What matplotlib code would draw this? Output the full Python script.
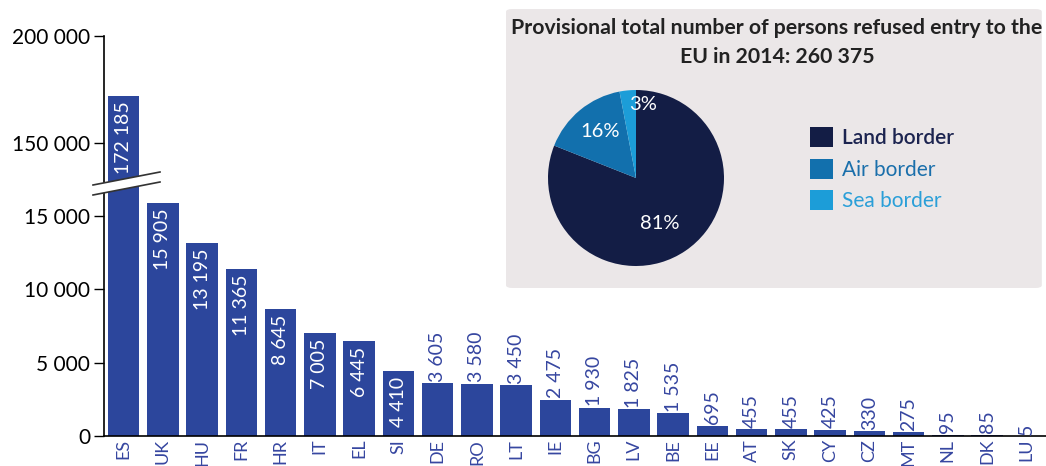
import matplotlib
matplotlib.use("Agg")
import matplotlib.pyplot as plt
from matplotlib.patches import FancyBboxPatch, Polygon
from matplotlib.lines import Line2D

plt.rcParams['font.family'] = ['Lato', 'DejaVu Sans']

countries = ["ES", "UK", "HU", "FR", "HR", "IT", "EL", "SI", "DE", "RO", "LT", "IE", "BG",
             "LV", "BE", "EE", "AT", "SK", "CY", "CZ", "MT", "NL", "DK", "LU"]
refused = [172185, 15905, 13195, 11365, 8645, 7005, 6445, 4410, 3605, 3580, 3450, 2475, 1930,
           1825, 1535, 695, 455, 455, 425, 330, 275, 95, 85, 5]

border_types = ["Land border", "Air border", "Sea border"]
border_share = [81, 16, 3]
total_refused = "260 375"

BAR = "#2c469c"
LABEL_BLUE = "#3646a0"
PIE_COLS = ["#131d45", "#1270ad", "#1c9dd8"]
LEG_TEXT = ["#1c2450", "#1a6fab", "#2a9fd8"]

W, H = 1046, 466
fig = plt.figure(figsize=(W / 100, H / 100), dpi=100)


def fx(x):
    return x / W


def fy(y):
    return 1 - y / H


def fmt(v):
    return f"{v:,}".replace(",", " ")


# grey inset box, kept behind the (transparent) axes
box = FancyBboxPatch((fx(506), fy(288)), fx(1046 - 506) - 0.004, (288 - 9) / H,
                     boxstyle="round,pad=0,rounding_size=0.006", transform=fig.transFigure,
                     facecolor="#ebe7e8", edgecolor="none", zorder=-1)
fig.patches.append(box)

# axes positions taken in pixels from the top-left corner
left, right = 104, 1046
y_top, y_break, y_zero = 36, 186, 436
ax_lo = fig.add_axes([fx(left), fy(y_zero), fx(right - left), (y_zero - y_break) / H])
ax_hi = fig.add_axes([fx(left), fy(y_break), fx(right - left), (y_break - y_top) / H])

x = list(range(len(countries)))
for ax in (ax_lo, ax_hi):
    ax.set_facecolor("none")
    ax.bar(x, refused, width=0.8, color=BAR, zorder=2)
    ax.set_xlim(-0.5, len(countries) - 0.5)
    for s in ("top", "right"):
        ax.spines[s].set_visible(False)
    ax.tick_params(axis="y", direction="out", length=7, width=1, labelsize=15, pad=3)

ax_lo.set_ylim(0, 17050)
ax_hi.set_ylim(129900, 200000)
ax_lo.set_yticks([0, 5000, 10000, 15000])
ax_lo.set_yticklabels([fmt(v) for v in [0, 5000, 10000, 15000]])
ax_hi.set_yticks([150000, 200000])
ax_hi.set_yticklabels([fmt(v) for v in [150000, 200000]])
ax_hi.spines["bottom"].set_visible(False)
ax_hi.set_xticks([])

ax_lo.set_xticks(x)
ax_lo.set_xticklabels(countries, rotation=90, color=LABEL_BLUE, fontsize=13)
ax_lo.tick_params(axis="x", length=0, pad=2)
for s in ("left", "bottom"):
    ax_lo.spines[s].set_linewidth(1.2)
ax_hi.spines["left"].set_linewidth(1.2)

# value labels
for i, v in enumerate(refused):
    ax = ax_hi if v > 17050 else ax_lo
    if v > 4000:
        ax.annotate(fmt(v), (i, v), xytext=(0, -4), textcoords="offset points",
                    rotation=90, ha="center", va="top", color="white", fontsize=14)
    else:
        ax.annotate(fmt(v), (i, v), xytext=(0, 1), textcoords="offset points",
                    rotation=90, ha="center", va="bottom", color=LABEL_BLUE, fontsize=14)

# axis break marks
band = Polygon([(fx(93), fy(185)), (fx(160), fy(172)), (fx(160), fy(182)), (fx(93), fy(195))],
               closed=True, transform=fig.transFigure, facecolor="white", edgecolor="none", zorder=10)
fig.add_artist(band)
for y0 in (185, 195):
    fig.add_artist(Line2D([fx(93), fx(160)], [fy(y0), fy(y0 - 13)], transform=fig.transFigure,
                          color="#333333", lw=1.2, zorder=11))

fig.text(fx(777), fy(28), "Provisional total number of persons refused entry to the",
         ha="center", va="center", fontsize=15.3, fontweight="bold", color="#222222")
fig.text(fx(777), fy(57), f"EU in 2014: {total_refused}",
         ha="center", va="center", fontsize=15.3, fontweight="bold", color="#222222")

cx, cy, r = 636, 178, 88
ax_pie = fig.add_axes([fx(cx - r), fy(cy + r), fx(2 * r), 2 * r / H])
ax_pie.set_facecolor("none")
wedges, _ = ax_pie.pie(border_share, colors=PIE_COLS, startangle=90, counterclock=False,
                       radius=1.0)
ax_pie.set_aspect("equal")
ax_pie.set_xlim(-1, 1)
ax_pie.set_ylim(-1, 1)
pct_pos = [(0.27, -0.52), (-0.41, 0.53), (0.08, 0.83)]
for (px, py), v in zip(pct_pos, border_share):
    ax_pie.text(px, py, f"{v}%", ha="center", va="center", color="white", fontsize=14.5)

leg = fig.legend(wedges, border_types, loc="upper left", bbox_to_anchor=(fx(810), fy(127)),
                 frameon=False, fontsize=15, handlelength=1.1, handleheight=1.1,
                 handletextpad=0.45, labelspacing=0.5, borderaxespad=0, borderpad=0)
for t, c in zip(leg.get_texts(), LEG_TEXT):
    t.set_color(c)
leg.get_texts()[0].set_fontweight("semibold")

fig.savefig("out.png", dpi=100)
